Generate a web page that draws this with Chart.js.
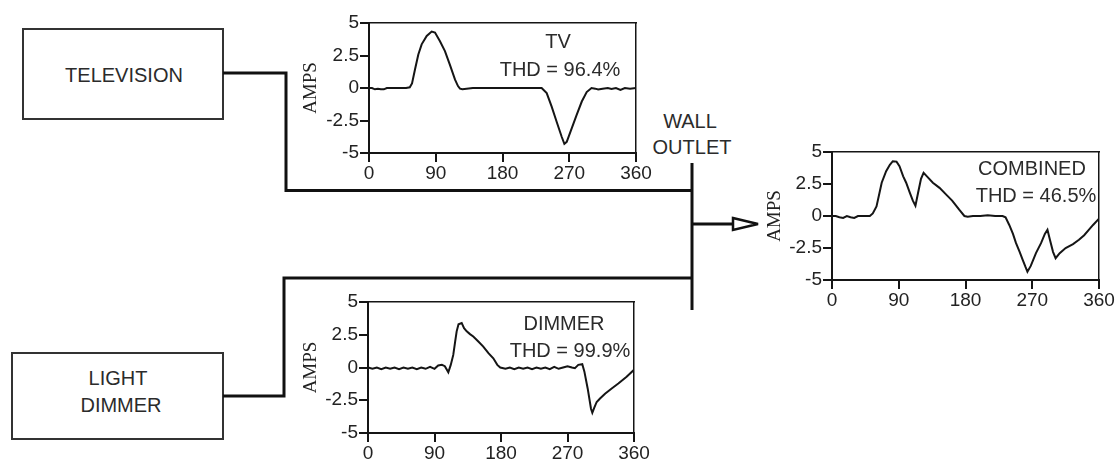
<!DOCTYPE html>
<html>
<head>
<meta charset="utf-8">
<script src="https://cdn.jsdelivr.net/npm/chart.js@4.4.1/dist/chart.umd.min.js"></script>
<style>
  html, body { margin: 0; padding: 0; background: #fff; }
  #stage { position: relative; width: 1118px; height: 461px; overflow: hidden; background: #fff;
           font-family: "Liberation Sans", Arial, sans-serif; color: #2b2b2b; }
  #stage canvas { position: absolute; }
  #wires { position: absolute; left: 0; top: 0; }
  .lbl { position: absolute; font-size: 20px; line-height: 1; white-space: nowrap; transform: translate(-50%, -50%); }
</style>
</head>
<body>
<div id="stage">
  <svg id="wires" width="1118" height="461" viewBox="0 0 1118 461">
    <g fill="none" stroke="#333" stroke-width="2">
      <rect x="23" y="29" width="200" height="90"/>
      <rect x="12" y="353" width="211" height="86"/>
    </g>
    <g fill="none" stroke="#111" stroke-width="3">
      <polyline points="223,73 286,73 286,190.5 692,190.5"/>
      <polyline points="223,396 284,396 284,278 692,278"/>
      <line x1="692" y1="163" x2="692" y2="310"/>
      <line x1="692" y1="224" x2="733" y2="224"/>
      <polygon points="733,218 758,224 733,230" fill="#fff" stroke-width="2.5"/>
    </g>
  </svg>

  <div class="lbl" style="left:124px; top:75px;">TELEVISION</div>
  <div class="lbl" style="left:118px; top:378px;">LIGHT</div>
  <div class="lbl" style="left:121px; top:405px;">DIMMER</div>
  <div class="lbl" style="left:690px; top:121px;">WALL</div>
  <div class="lbl" style="left:692px; top:147px;">OUTLET</div>

  <canvas id="tvChart"></canvas>
  <canvas id="dimmerChart"></canvas>
  <canvas id="combinedChart"></canvas>

  <div class="lbl" style="left:558px; top:41px;">TV</div>
  <div class="lbl" style="left:560px; top:69px;">THD = 96.4%</div>
  <div class="lbl" style="left:564px; top:323px;">DIMMER</div>
  <div class="lbl" style="left:570px; top:350px;">THD = 99.9%</div>
  <div class="lbl" style="left:1032px; top:168px;">COMBINED</div>
  <div class="lbl" style="left:1036px; top:195px;">THD = 46.5%</div>
</div>

<script>
// Axis ticks shared by all three current plots
const xTickValues = [0, 90, 180, 270, 360];
const yTickValues = [-5, -2.5, 0, 2.5, 5];

// Television current over one cycle (degrees, amps)
const tvDeg  = [0, 4, 8, 12, 16, 20, 24, 30, 40, 50, 55, 58, 62, 66.5, 71, 77.8, 84.5, 89, 95.7, 102.4,
                109, 116, 120, 122.7, 126, 140, 160, 180, 200, 220, 232.8, 239.6, 246.3, 253, 259.8, 263.4, 266.6, 273.3, 280, 286.9,
                293.5, 300, 305, 309, 315, 322, 327, 333, 339, 345, 352, 360];
const tvAmps = [0, 0, -0.1, -0.05, -0.1, -0.1, 0, 0, 0, 0, 0.05, 0.35, 1.42, 2.58, 3.36, 4.0, 4.34, 4.26, 3.6, 2.84,
                1.8, 0.64, 0.15, -0.05, -0.1, 0, 0, 0, 0, 0, 0, -0.39, -1.43, -2.6, -3.75, -4.3, -4.14, -3.1, -2.07, -1.04,
                -0.31, 0, -0.05, -0.12, -0.05, 0, -0.08, 0, -0.15, 0, -0.05, 0];

// Light dimmer current over one cycle
const dimmerDeg  = [0, 6, 12, 18, 24, 30, 36, 42, 48, 54, 60, 66, 72, 78, 84, 90, 95, 100, 104, 108.7,
                    112, 115.4, 118, 120, 122.5, 126.8, 130, 133.6, 138, 142.5, 150, 156, 163, 169.6, 175, 179, 186, 192, 198, 204,
                    210, 216, 222, 228, 234, 240, 246, 252, 258, 264, 270, 276, 280, 284.6, 290, 292.8, 297.3, 301.8, 303.6, 306,
                    309.5, 314, 320.8, 329.8, 338.8, 350, 360];
const dimmerAmps = [0, -0.1, 0, -0.12, 0, -0.1, 0, -0.12, 0, -0.1, 0, -0.12, 0, -0.1, 0.05, -0.1, 0.15, 0.2, 0.1, -0.37,
                    0.2, 0.96, 2.0, 2.76, 3.3, 3.4, 3.0, 2.76, 2.55, 2.37, 1.95, 1.6, 1.1, 0.7, 0.2, 0, -0.1, 0, -0.12, 0,
                    -0.1, 0, -0.12, 0, -0.1, 0, -0.12, 0.05, -0.1, 0, 0.1, 0, -0.05, 0.2, 0.25, -0.3, -1.6, -3.15, -3.46, -3.1,
                    -2.63, -2.37, -2.0, -1.6, -1.22, -0.7, -0.18];

// Combined current seen at the wall outlet
const combinedDeg  = [0, 5, 10, 15, 20, 25, 30, 35, 42, 51, 55, 60, 64, 67, 73, 78, 82, 87, 91, 96,
                      100, 105, 109, 112.5, 116, 120, 123.5, 128, 136, 145, 154, 162, 171.5, 178.5, 183, 190, 200, 210, 220, 230,
                      234, 239, 244, 248, 253, 257, 261, 263.5, 268, 275, 282, 287, 290.5, 294, 298, 301.5, 307, 315, 325, 333,
                      340, 346.5, 352, 360];
const combinedAmps = [0, 0, -0.1, -0.15, 0, -0.1, -0.15, 0, 0, 0, 0.2, 0.75, 1.8, 2.6, 3.5, 4.0, 4.28, 4.25, 3.9, 3.1,
                      2.6, 1.8, 1.2, 0.8, 1.8, 2.9, 3.37, 3.1, 2.6, 2.2, 1.67, 1.2, 0.49, 0, -0.05, 0, 0, 0.05, 0, 0,
                      -0.1, -0.7, -1.4, -2.1, -2.8, -3.4, -4.0, -4.35, -3.9, -2.9, -2.1, -1.4, -1.07, -1.9, -2.8, -3.3, -2.9, -2.5, -2.2, -1.86,
                      -1.5, -1.07, -0.7, -0.2];

// Layout of each plot area on the page (pixels)
const PAD_TOP = 20, PAD_RIGHT = 22, Y_AXIS_W = 90, X_AXIS_H = 40;
const INK = '#151515';

function placeCanvas(canvas, area) {
  const w = Y_AXIS_W + (area.r - area.l) + PAD_RIGHT;
  const h = PAD_TOP + (area.b - area.t) + X_AXIS_H;
  canvas.width = w; canvas.height = h;
  canvas.style.width = w + 'px'; canvas.style.height = h + 'px';
  canvas.style.left = (area.l - Y_AXIS_W) + 'px';
  canvas.style.top = (area.t - PAD_TOP) + 'px';
}

function waveChart(id, area, degs, amps, titlePad) {
  const canvas = document.getElementById(id);
  placeCanvas(canvas, area);
  const tickFont = { family: '"Liberation Sans", Arial, sans-serif', size: 19, lineHeight: 1 };
  return new Chart(canvas, {
    type: 'line',
    data: {
      datasets: [{
        data: degs.map((d, i) => ({ x: d, y: amps[i] })),
        xAxisID: 'x', yAxisID: 'y',
        borderColor: INK, borderWidth: 2, pointRadius: 0, tension: 0, fill: false
      }]
    },
    options: {
      responsive: false, animation: false, events: [],
      layout: { padding: { top: PAD_TOP, right: PAD_RIGHT, left: 0, bottom: 0 } },
      plugins: { legend: { display: false }, tooltip: { enabled: false } },
      scales: {
        x: {
          type: 'linear', position: 'bottom', min: 0, max: 360,
          afterBuildTicks: s => { s.ticks = xTickValues.map(v => ({ value: v })); },
          afterFit: s => { s.height = X_AXIS_H; },
          grid: { drawOnChartArea: false, drawTicks: true, tickLength: 9, color: INK, lineWidth: 2 },
          border: { display: true, color: INK, width: 2 },
          ticks: { color: '#222', padding: 2, maxRotation: 0, autoSkip: false, font: tickFont }
        },
        y: {
          type: 'linear', position: 'left', min: -5, max: 5,
          afterBuildTicks: s => { s.ticks = yTickValues.map(v => ({ value: v })); },
          afterFit: s => { s.width = Y_AXIS_W; },
          grid: { drawOnChartArea: false, drawTicks: true, tickLength: 9, color: INK, lineWidth: 2 },
          border: { display: true, color: INK, width: 2 },
          ticks: { color: '#222', padding: 1, autoSkip: false, font: tickFont },
          title: { display: true, text: 'AMPS', color: '#222',
                   font: { family: '"Liberation Serif", "Times New Roman", serif', size: 19, lineHeight: 1.2 },
                   padding: { top: titlePad, bottom: 0 } }
        },
        x2: {
          type: 'linear', position: 'top', min: 0, max: 360,
          afterFit: s => { s.height = 0; },
          grid: { display: false }, ticks: { display: false },
          border: { display: true, color: INK, width: 1.5 }
        },
        y2: {
          type: 'linear', position: 'right', min: -5, max: 5,
          afterFit: s => { s.width = 0; },
          grid: { display: false }, ticks: { display: false },
          border: { display: true, color: INK, width: 1.5 }
        }
      }
    }
  });
}

waveChart('tvChart',       { l: 369, r: 636,  t: 23,  b: 153 }, tvDeg, tvAmps, 21);
waveChart('dimmerChart',   { l: 368, r: 634,  t: 302, b: 433 }, dimmerDeg, dimmerAmps, 22);
waveChart('combinedChart', { l: 832, r: 1099, t: 152, b: 280 }, combinedDeg, combinedAmps, 22);
</script>
</body>
</html>
